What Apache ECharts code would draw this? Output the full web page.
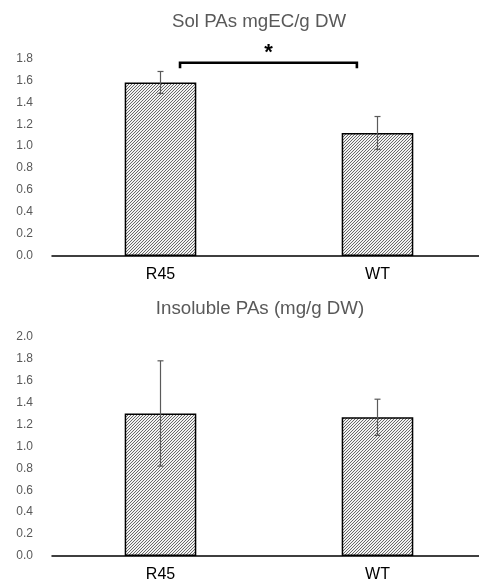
<!DOCTYPE html>
<html>
<head>
<meta charset="utf-8">
<script src="https://cdn.jsdelivr.net/npm/echarts@6/dist/echarts.min.js"></script>
<style>
html,body{margin:0;padding:0;background:#fff;overflow:hidden;width:479px;height:583px;}
#c{width:490px;height:583px;}
</style>
</head>
<body>
<div id="c"></div>
<script>
const categories = ['R45', 'WT'];
const solValues = [1.58, 1.12];
const solErrors = [0.10, 0.15];
const insolValues = [1.30, 1.265];
const insolErrors = [0.48, 0.165];
const solAxis = { min: 0, max: 1.8, interval: 0.2 };
const insolAxis = { min: 0, max: 2.0, interval: 0.2 };
const titles = ['Sol PAs mgEC/g DW', 'Insoluble PAs (mg/g DW)'];
// significance bracket between categories (in data units)
const bracket = [[0, 1, 1.76, 1.71]];
const bracketLabel = '*';

function hatch() {
  const s = 3;
  const cv = document.createElement('canvas');
  cv.width = s; cv.height = s;
  const ctx = cv.getContext('2d');
  ctx.fillStyle = '#f2f2f2';
  ctx.fillRect(0, 0, s, s);
  ctx.strokeStyle = '#595959';
  ctx.lineWidth = 0.9;
  ctx.beginPath();
  ctx.moveTo(-1, s + 1); ctx.lineTo(s + 1, -1);
  ctx.moveTo(-1, 1); ctx.lineTo(1, -1);
  ctx.moveTo(s - 1, s + 1); ctx.lineTo(s + 1, s - 1);
  ctx.stroke();
  return cv;
}
const pattern = { image: hatch(), repeat: 'repeat' };

const chart = echarts.init(document.getElementById('c'), null, { renderer: 'canvas' });

function errRender(params, api) {
  const x = api.value(0), v = api.value(1), e = api.value(2);
  const t = api.coord([x, v + e]);
  const b = api.coord([x, v - e]);
  const hw = 3;
  const st = { stroke: '#5a5a5a', lineWidth: 1.2 };
  return {
    type: 'group',
    children: [
      { type: 'line', shape: { x1: t[0], y1: t[1], x2: b[0], y2: b[1] }, style: st },
      { type: 'line', shape: { x1: t[0] - hw, y1: t[1], x2: t[0] + hw, y2: t[1] }, style: st },
      { type: 'line', shape: { x1: b[0] - hw, y1: b[1], x2: b[0] + hw, y2: b[1] }, style: st }
    ]
  };
}

function bracketRender(params, api) {
  const p0 = api.coord([api.value(0), api.value(2)]);
  const p1 = api.coord([api.value(1), api.value(2)]);
  const band = api.size([1, 0])[0];
  const yb = api.coord([api.value(0), api.value(3)])[1];
  const x0 = p0[0] + 0.09 * band;
  const x1 = p1[0] - 0.095 * band;
  return {
    type: 'group',
    children: [
      { type: 'polyline', shape: { points: [[x0, yb], [x0, p0[1]], [x1, p0[1]], [x1, yb]] },
        style: { stroke: '#000', lineWidth: 2.6, fill: null } },
      { type: 'text', x: (x0 + x1) / 2, y: p0[1] - 10,
        style: { text: bracketLabel, fill: '#000', font: 'bold 22px "Liberation Sans", Arial, sans-serif',
                 textAlign: 'center', textVerticalAlign: 'middle' } }
    ]
  };
}

const font = '"Liberation Sans", Arial, sans-serif';
function yAxis(idx, ax) {
  return {
    type: 'value', gridIndex: idx, min: ax.min, max: ax.max, interval: ax.interval,
    axisLine: { show: false }, axisTick: { show: false }, splitLine: { show: false },
    axisLabel: { color: '#595959', fontSize: 12, fontFamily: font, margin: 19,
                 formatter: v => v.toFixed(1) }
  };
}
function xAxis(idx) {
  return {
    type: 'category', gridIndex: idx, data: categories,
    axisLine: { lineStyle: { color: '#000', width: 1.5 } },
    axisTick: { show: false },
    axisLabel: { color: '#000', fontSize: 16, fontFamily: font, margin: 11 }
  };
}
function bars(idx, vals) {
  return {
    type: 'bar', xAxisIndex: idx, yAxisIndex: idx, data: vals, barWidth: '33%',
    itemStyle: { color: pattern, borderColor: '#000', borderWidth: 1.5 },
    silent: true, animation: false
  };
}
function errs(idx, vals, errsArr) {
  return {
    type: 'custom', xAxisIndex: idx, yAxisIndex: idx, renderItem: errRender,
    data: vals.map((v, i) => [i, v, errsArr[i]]), z: 5, silent: true, animation: false
  };
}

chart.setOption({
  animation: false,
  backgroundColor: '#fff',
  grid: [
    { left: 52, top: 58.3, width: 434, height: 197.7 },
    { left: 52, top: 336.7, width: 434, height: 219.3 }
  ],
  graphic: [
    { type: 'text', x: 259, y: 22, style: { text: titles[0], fill: '#595959', font: '18.7px ' + font,
      textAlign: 'center', textVerticalAlign: 'middle' } },
    { type: 'text', x: 260, y: 309, style: { text: titles[1], fill: '#595959', font: '18.7px ' + font,
      textAlign: 'center', textVerticalAlign: 'middle' } }
  ],
  xAxis: [xAxis(0), xAxis(1)],
  yAxis: [yAxis(0, solAxis), yAxis(1, insolAxis)],
  series: [
    bars(0, solValues),
    errs(0, solValues, solErrors),
    { type: 'custom', xAxisIndex: 0, yAxisIndex: 0, renderItem: bracketRender, data: bracket,
      z: 6, silent: true, animation: false, clip: false },
    bars(1, insolValues),
    errs(1, insolValues, insolErrors)
  ]
});
</script>
</body>
</html>
